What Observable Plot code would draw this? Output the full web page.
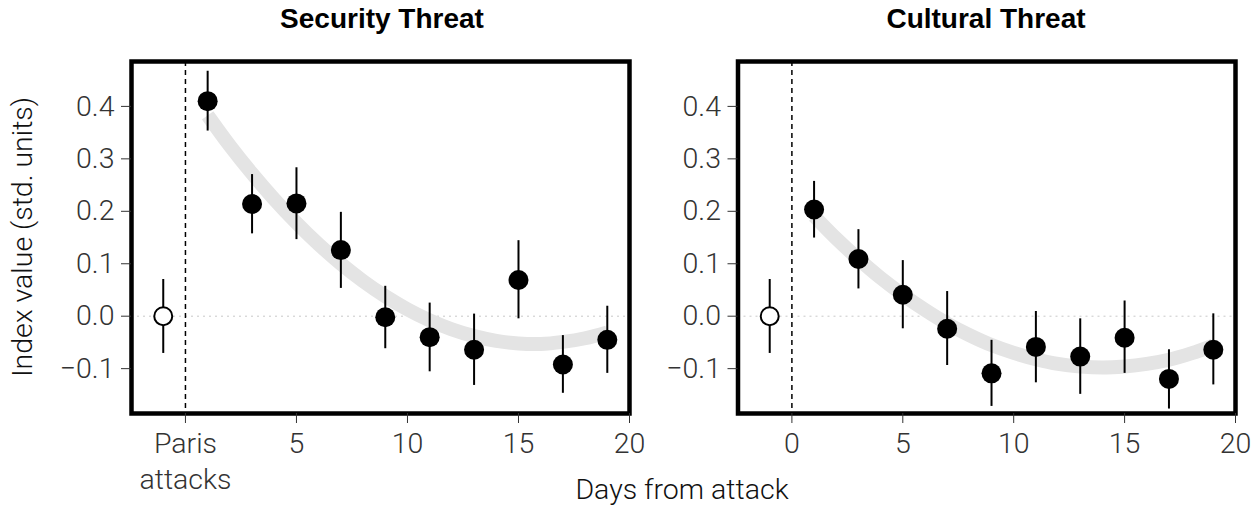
<!DOCTYPE html>
<html><head><meta charset="utf-8">
<script src="https://cdn.jsdelivr.net/npm/d3@7"></script>
<script src="https://cdn.jsdelivr.net/npm/@observablehq/plot@0.6"></script>
<style>
body{margin:0;background:#fff;}
#root{position:relative;width:1260px;height:508px;overflow:hidden;font-family:Roboto,"Liberation Sans",sans-serif;}
.panel{position:absolute;top:0;}
.title{position:absolute;font-weight:bold;font-size:28px;line-height:1;color:#000;font-family:"Liberation Sans",Arial,sans-serif;transform:translate(-50%,-50%);white-space:nowrap;}
.lab{position:absolute;font-size:28.5px;font-weight:300;line-height:1;color:#111;white-space:nowrap;}
</style>
</head><body>
<div id="root">
  <div class="title" style="left:382px;top:19px">Security Threat</div>
  <div class="title" style="left:986px;top:19px">Cultural Threat</div>
  <div class="lab" style="left:23px;top:237px;transform:translate(-50%,-50%) rotate(-90deg)">Index value (std. units)</div>
  <div class="lab" style="left:682px;top:490px;transform:translate(-50%,-50%)">Days from attack</div>
</div>
<script>
// Days relative to the Paris attacks (-1 = pre-attack baseline)
const days = [-1, 1, 3, 5, 7, 9, 11, 13, 15, 17, 19];

const security   = [0, 0.410, 0.214, 0.215, 0.126, -0.002, -0.040, -0.064, 0.069, -0.092, -0.045];
const securityLo = [-0.071, 0.353, 0.157, 0.146, 0.053, -0.062, -0.106, -0.132, -0.005, -0.147, -0.109];
const securityHi = [0.070, 0.467, 0.270, 0.283, 0.198, 0.057, 0.025, 0.004, 0.144, -0.037, 0.019];

const cultural   = [0, 0.2035, 0.109, 0.041, -0.024, -0.109, -0.0585, -0.077, -0.041, -0.1196, -0.064];
const culturalLo = [-0.071, 0.149, 0.052, -0.024, -0.094, -0.172, -0.127, -0.149, -0.109, -0.177, -0.131];
const culturalHi = [0.070, 0.257, 0.165, 0.106, 0.047, -0.046, 0.009, -0.005, 0.029, -0.064, 0.0045];

// Smooth trend band
const fitDays = [1, 2, 3, 4, 5, 6, 7, 8, 9, 10, 11, 12, 13, 14, 15, 16, 17, 18, 19];
const securityFit = [0.383, 0.325, 0.272, 0.223, 0.178, 0.137, 0.100, 0.067, 0.038, 0.013, -0.008, -0.025, -0.038, -0.047, -0.052, -0.053, -0.049, -0.042, -0.031];
const culturalFit = [0.191, 0.148, 0.109, 0.073, 0.041, 0.012, -0.014, -0.036, -0.055, -0.070, -0.082, -0.091, -0.096, -0.098, -0.096, -0.091, -0.083, -0.071, -0.056];

const xTicks = [0, 5, 10, 15, 20];
const yTicks = [-0.1, 0.0, 0.1, 0.2, 0.3, 0.4];

function panel(values, lo, hi, fit, opts) {
  const pts = days.map((d, i) => ({day: d, v: values[i], lo: lo[i], hi: hi[i]}));
  const fitData = fitDays.map((d, i) => ({day: d, v: fit[i]}));
  const fmtY = d3.format(".1f");
  return Plot.plot({
    width: opts.width,
    height: 508,
    marginLeft: opts.marginLeft,
    marginRight: opts.marginRight,
    marginTop: 61,
    marginBottom: 95,
    style: {background: "transparent", fontFamily: 'Roboto, "Liberation Sans", sans-serif', fontSize: "28.5px", fontWeight: 300, overflow: "visible"},
    x: {domain: [-2.43, 20]},
    y: {domain: [-0.1855, 0.4856]},
    marks: [
      Plot.ruleY([0], {stroke: "#c8c8c8", strokeDasharray: "2,4", strokeWidth: 1}),
      Plot.ruleX([0], {stroke: "#000", strokeDasharray: "5,4", strokeWidth: 1.5}),
      Plot.line(fitData, {x: "day", y: "v", stroke: "#e4e4e4", strokeWidth: 14, curve: "catmull-rom", strokeLinecap: "butt"}),
      Plot.ruleX(pts, {x: "day", y1: "lo", y2: "hi", stroke: "#000", strokeWidth: 2}),
      Plot.dot(pts.filter(d => d.day >= 0), {x: "day", y: "v", r: 10, fill: "#000", stroke: "none"}),
      Plot.dot(pts.filter(d => d.day < 0), {x: "day", y: "v", r: 9, fill: "#fff", stroke: "#000", strokeWidth: 2}),
      Plot.frame({stroke: "#000", strokeWidth: 4.5}),
      Plot.axisX({ticks: xTicks, tickFormat: opts.xFormat, tickSize: 10, tickPadding: 4, color: "#333", lineHeight: 1.26, label: null}),
      Plot.axisY({ticks: yTicks, tickFormat: fmtY, tickSize: 10, tickPadding: 7, color: "#333", label: null})
    ]
  });
}

const root = document.getElementById("root");
const left = panel(security, securityLo, securityHi, securityFit,
  {width: 660, marginLeft: 131, marginRight: 31, xFormat: d => d === 0 ? "Paris\nattacks" : String(d)});
left.classList.add("panel");
left.style.left = "0px";
root.insertBefore(left, root.firstChild);

const right = panel(cultural, culturalLo, culturalHi, culturalFit,
  {width: 600, marginLeft: 77.5, marginRight: 25, xFormat: d => String(d)});
right.classList.add("panel");
right.style.left = "660px";
root.insertBefore(right, root.firstChild);
</script>
</body></html>
